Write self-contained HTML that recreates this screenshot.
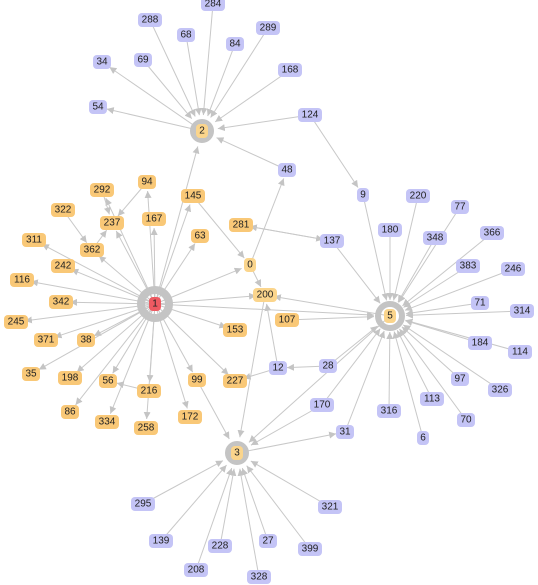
<!DOCTYPE html>
<html><head><meta charset="utf-8"><style>
html,body{margin:0;padding:0;background:#fff;width:538px;height:585px;overflow:hidden}
svg{display:block}
text{font-family:"Liberation Sans",sans-serif;font-size:10px;fill:#222;text-anchor:middle;dominant-baseline:central}
</style></head><body>
<svg id="g" width="538" height="585">
<defs><marker id="arr" viewBox="0 0 10 10" refX="10" refY="5" markerWidth="7" markerHeight="7" orient="auto"><path d="M0,0L10,5L0,10z" fill="#c4c4c4"/></marker></defs>
<g id="edges"></g>
<g id="hubs"></g>
<g id="nodes"></g>
</svg>
<script>
const nodeIds=["1","2","5","3","0","200","288","284","68","84","289","34","69","168","54","124","48","9","180","220","77","348","366","383","246","71","314","184","114","97","326","70","113","316","6","28","170","31","137","12","145","94","292","322","237","167","63","281","311","362","242","116","342","245","371","38","35","198","56","86","216","334","258","99","172","227","153","107","295","139","228","208","27","328","399","321"];
const nodeX=[155,202,390,237,250,265,150,213,186,235,268,102,143,290,98,310,287,363,390,418,460,435,492,468,513,480,522,480,520,460,500,466,432,389,423,328,322,345,332,278,193,147,102,63,112,154,200,241,34,92,63,22,61,16,46,86,31,70,108,70,149,107,146,197,190,235,235,287,143,161,220,196,268,259,310,330];
const nodeY=[304,131,316,453,265,295,20,4,35,44,28,62,60,70,107,115,170,195,230,196,207,238,233,266,269,303,311,343,352,379,390,420,399,411,438,366,405,432,241,368,196,182,190,210,223,219,236,225,240,250,266,280,302,322,340,340,374,378,381,412,391,422,428,380,417,381,330,320,504,541,546,570,541,577,549,507];
const nodeType=["red","orange","orange","orange","orange","orange","b","b","b","b","b","b","b","b","b","b","b","b","b","b","b","b","b","b","b","b","b","b","b","b","b","b","b","b","b","b","b","b","b","b","o","o","o","o","o","o","o","o","o","o","o","o","o","o","o","o","o","o","o","o","o","o","o","o","o","o","o","o","b","b","b","b","b","b","b","b"];
const edgeFrom=["288","284","68","84","289","69","168","2","2","124","48","124","1","1","1","1","1","1","1","1","1","1","1","1","1","1","1","1","1","1","1","1","1","1","1","1","1","1","1","1","1","145","0","0","12","12","28","137","281","200","99","216","170","3","295","139","228","208","27","328","399","321","94","292","362","322","9","180","220","77","348","366","383","246","71","314","184","114","97","326","70","113","316","6","28","170","31","137","107","5","5"];
const edgeTo=["2","2","2","2","2","2","2","34","54","2","2","9","2","0","200","5","145","94","167","63","292","237","362","242","116","342","245","371","38","35","198","56","86","216","334","258","99","172","227","153","311","0","48","200","200","227","12","281","137","3","3","56","3","31","3","3","3","3","3","3","3","3","237","237","237","362","5","5","5","5","5","5","5","5","5","5","5","5","5","5","5","5","5","5","5","5","5","5","5","200","3"];
const S="http://www.w3.org/2000/svg";
const idx=id=>nodeIds.indexOf(id);
const eg=document.getElementById('edges'),ng=document.getElementById('nodes'),hg=document.getElementById('hubs');
for(let i=0;i<edgeFrom.length;i++){
  const a=idx(edgeFrom[i]),b=idx(edgeTo[i]);if(a<0||b<0)continue;
  const x1=nodeX[a],y1=nodeY[a],x2=nodeX[b],y2=nodeY[b];
  const d=Math.hypot(x2-x1,y2-y1)||1;const big=["1","2","5","3"].includes(edgeTo[i]);
  const r=big?16:9;
  const l=document.createElementNS(S,'line');
  l.setAttribute('x1',x1);l.setAttribute('y1',y1);
  l.setAttribute('x2',x2-(x2-x1)/d*r);l.setAttribute('y2',y2-(y2-y1)/d*r);
  l.setAttribute('stroke','#c8c8c8');l.setAttribute('stroke-width','1');
  l.setAttribute('marker-end','url(#arr)');
  
  
  eg.appendChild(l);
}
["1","2","5","3"].forEach(h=>{const k=idx(h);
  const c=document.createElementNS(S,'circle');
  c.setAttribute('cx',nodeX[k]);c.setAttribute('cy',nodeY[k]);
  c.setAttribute('r',h==="1"?14:(h==="5"?12:9));
  c.setAttribute('fill','none');c.setAttribute('stroke','#c4c4c4');c.setAttribute('stroke-width',h==="1"?8:6);
  
  
  hg.appendChild(c);});
for(let i=0;i<nodeIds.length;i++){
  const t=nodeType[i];const w=Math.max(10,nodeIds[i].length*6+6);
  const g=document.createElementNS(S,'g');
  
  
  const r=document.createElementNS(S,'rect');
  r.setAttribute('x',nodeX[i]-w/2);r.setAttribute('y',nodeY[i]-7);r.setAttribute('width',w);r.setAttribute('height',14);r.setAttribute('rx',4);
  r.setAttribute('fill',t==="red"?"#ee5a62":(t==="b"?"#c4c4f6":(t==="orange"?"#fbd58c":"#f9c877")));
  g.appendChild(r);
  const tx=document.createElementNS(S,'text');tx.setAttribute('x',nodeX[i]);tx.setAttribute('y',nodeY[i]);tx.textContent=nodeIds[i];
  g.appendChild(tx);ng.appendChild(g);
}
</script>
</body></html>
